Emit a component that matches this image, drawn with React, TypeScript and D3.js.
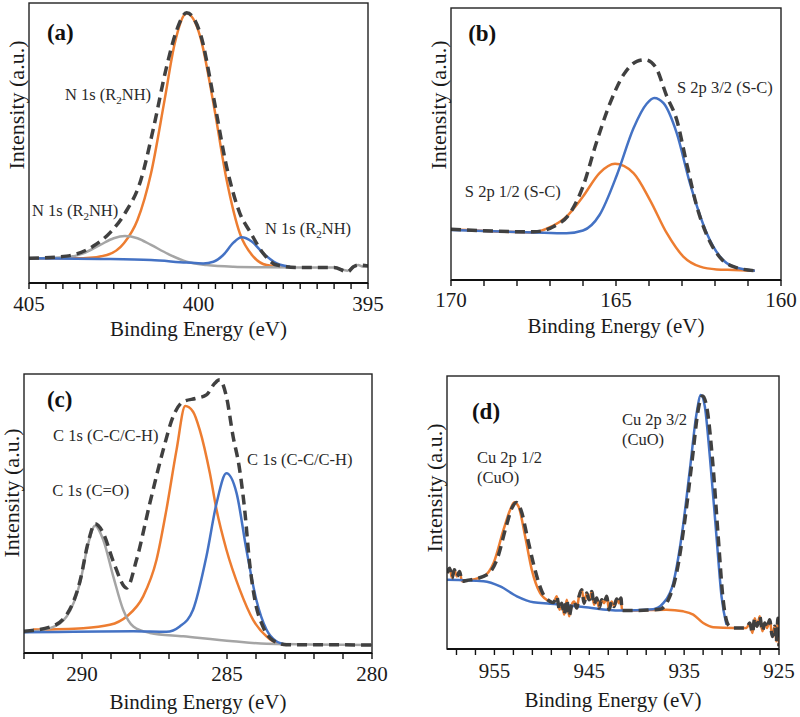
import React from 'react';
import * as d3 from 'd3';

type P = [number, number];

// ---------- Panel (a): N 1s ----------
const aOrange: P[] = [
  [405.0, 8.8], [403.4, 8.8], [402.7, 10.0], [402.2, 14.2], [401.8, 22.5], [401.4, 39.2], [401.0, 65.4],
  [400.7, 85.6], [400.35, 96.3], [399.95, 88.0], [399.56, 64.2], [399.17, 36.8], [398.78, 17.7],
  [398.38, 9.4], [397.99, 6.4], [397.5, 5.8],
];
const aGray: P[] = [
  [405.0, 8.8], [403.9, 9.2], [403.4, 10.6], [402.9, 13.6], [402.5, 16.0], [402.17, 16.8], [401.8, 16.0],
  [401.4, 13.6], [400.9, 10.4], [400.35, 7.6], [399.76, 6.4], [398.97, 5.8], [397.99, 5.6], [397.0, 5.5],
  [396.0, 5.5], [395.6, 4.4], [395.43, 5.8], [395.29, 6.4], [395.14, 5.8], [395.0, 6.1],
];
const aBlue: P[] = [
  [405.0, 8.8], [402.9, 8.6], [401.4, 8.2], [400.35, 7.3], [399.86, 7.0], [399.56, 7.6], [399.27, 10.0],
  [398.97, 14.4], [398.73, 16.3], [398.43, 14.8], [398.09, 10.6], [397.69, 7.0], [397.3, 5.8],
];
const aEnvelope: P[] = [
  [405.0, 8.8], [403.9, 9.6], [403.1, 13.2], [402.6, 18.1], [402.17, 24.9], [401.7, 36.8], [401.33, 55.2],
  [400.94, 77.3], [400.64, 90.4], [400.35, 96.5], [399.95, 89.2], [399.56, 66.5], [399.17, 41.5],
  [398.78, 24.9], [398.48, 18.3], [398.09, 10.6], [397.69, 6.4], [397.0, 5.5], [396.0, 5.5], [395.6, 4.0],
  [395.43, 5.8], [395.29, 6.4], [395.0, 6.1],
];
const aTickLabels = [405, 400, 395];

// ---------- Panel (b): S 2p ----------
const bOrange: P[] = [
  [170.0, 18.7], [168.5, 17.8], [167.5, 17.5], [167.0, 19.4], [166.5, 23.3], [166.0, 30.7], [165.5, 39.3],
  [165.03, 42.7], [164.47, 39.3], [163.97, 29.4], [163.46, 17.2], [162.96, 8.6], [162.45, 4.9],
  [161.95, 3.9], [161.44, 3.7], [160.79, 3.4],
];
const bBlue: P[] = [
  [170.0, 18.4], [167.5, 17.5], [166.5, 17.2], [166.0, 18.2], [165.5, 23.9], [164.97, 38.7], [164.47, 55.8],
  [164.07, 64.8], [163.84, 66.9], [163.56, 65.0], [163.16, 54.0], [162.76, 35.6], [162.25, 17.2],
  [161.85, 8.6], [161.44, 4.9], [160.79, 3.4],
];
const bEnvelope: P[] = [
  [170.0, 18.7], [167.5, 17.7], [166.9, 19.6], [166.4, 24.5], [166.0, 34.4], [165.6, 50.3], [165.18, 65.0],
  [164.77, 75.5], [164.37, 80.4], [164.12, 81.0], [163.81, 78.5], [163.46, 67.5], [163.16, 58.9],
  [162.86, 42.9], [162.55, 27.0], [162.25, 16.6], [161.85, 8.3], [161.44, 4.9], [160.79, 3.4],
];
const bTickLabels = [170, 165, 160];

// ---------- Panel (c): C 1s ----------
const cGray: P[] = [
  [292.0, 7.4], [291.1, 8.9], [290.53, 13.1], [290.07, 25.1], [289.78, 39.4], [289.55, 45.6], [289.27, 40.6],
  [288.92, 27.4], [288.58, 15.5], [288.23, 9.5], [287.66, 7.2], [286.51, 6.0], [284.79, 4.2], [283.64, 3.3],
  [280.0, 2.9],
];
const cOrange: P[] = [
  [291.68, 8.4], [289.96, 8.9], [289.04, 10.1], [288.46, 13.1], [287.89, 20.3], [287.43, 33.4],
  [287.09, 51.3], [286.74, 72.8], [286.44, 88.5], [286.17, 86.5], [285.94, 80.0], [285.59, 64.4],
  [285.36, 51.3], [285.02, 37.0], [284.56, 22.7], [284.1, 11.9], [283.64, 6.0], [283.3, 3.6], [282.95, 2.9],
];
const cBlue: P[] = [
  [292.0, 7.4], [288.23, 7.8], [287.09, 7.6], [286.63, 9.5], [286.17, 15.5], [285.71, 34.6], [285.36, 53.7],
  [285.02, 64.4], [284.67, 57.3], [284.33, 37.0], [283.99, 19.1], [283.64, 8.4], [283.3, 4.2], [282.95, 3.0],
];
const cEnvelope: P[] = [
  [292.0, 7.8], [291.1, 9.3], [290.53, 13.7], [290.07, 25.7], [289.78, 40.0], [289.55, 46.3], [289.27, 43.0],
  [288.92, 32.8], [288.46, 23.3], [288.12, 33.4], [287.66, 53.7], [287.2, 72.8], [286.86, 84.7],
  [286.51, 90.1], [286.05, 91.3], [285.71, 92.5], [285.42, 96.7], [285.25, 97.9], [285.02, 91.9],
  [284.79, 77.6], [284.58, 66.8], [284.39, 51.3], [284.22, 32.2], [284.04, 19.1], [283.76, 9.5],
  [283.41, 4.5], [282.95, 3.0], [280.0, 2.9],
];
const cTickLabels = [290, 285, 280];

// ---------- Panel (d): Cu 2p ----------
const dNoiseLeft: P[] = [
  [960.0, 27.8], [959.72, 29.6], [959.47, 26.0], [959.23, 29.0], [958.95, 26.6], [958.67, 28.4], [958.42, 24.8],
];
const dNoiseMid: P[] = [
  [948.78, 17.0], [948.43, 19.3], [948.14, 14.4], [947.9, 16.8], [947.65, 12.6], [947.37, 18.0], [947.13, 12.0],
  [946.85, 16.2], [946.6, 17.4], [946.32, 15.0], [946.08, 19.3], [945.79, 21.7], [945.55, 16.8], [945.27, 20.5],
  [945.02, 18.0], [944.74, 21.1], [944.5, 16.2], [944.22, 18.7], [943.97, 15.0], [943.69, 18.0], [943.44, 16.8],
  [943.16, 19.3], [942.92, 14.4], [942.64, 17.4], [942.39, 15.6], [942.11, 18.3], [941.87, 16.8], [941.66, 18.7],
  [941.55, 14.1],
];
const dNoiseRight: P[] = [
  [928.08, 9.5], [927.8, 5.9], [927.56, 11.3], [927.31, 8.3], [927.03, 12.0], [926.75, 6.5], [926.5, 9.5],
  [926.26, 7.7], [925.98, 10.7], [925.7, 4.6], [925.45, 8.3], [925.28, 2.8], [925.1, 11.3], [925.0, 1.0],
];
const dOrangePeak: P[] = [
  [957.9, 25.1], [956.14, 26.6], [955.09, 31.5], [954.04, 43.7], [953.34, 51.0], [952.91, 53.8], [952.46, 52.2],
  [951.76, 41.2], [951.06, 29.0], [950.18, 20.5], [949.13, 17.4],
];
const dOrangeTail: P[] = [
  [940.36, 14.1], [936.85, 14.4], [935.1, 13.8], [934.04, 12.6], [932.99, 9.5], [931.94, 8.0], [929.84, 7.7],
  [928.43, 7.7],
];
const dBlue: P[] = [
  [960.0, 25.4], [956.14, 24.8], [954.39, 22.9], [952.63, 19.3], [950.88, 17.1], [949.13, 16.6], [945.62, 15.4],
  [941.76, 14.1], [938.25, 14.6], [937.2, 16.8], [936.15, 24.1], [935.27, 41.2], [934.4, 65.6], [933.69, 86.3],
  [933.24, 93.0], [932.82, 88.8], [932.29, 70.5], [931.59, 41.2], [931.06, 19.3], [930.54, 8.9],
];
const dEnvPeak1: P[] = [
  [957.9, 25.1], [955.79, 27.2], [954.74, 32.7], [953.76, 44.9], [953.16, 51.6], [952.7, 53.7], [952.21, 51.0],
  [951.51, 40.6], [950.81, 30.2], [950.0, 21.1], [949.13, 17.4],
];
const dEnvPeak2: P[] = [
  [940.36, 14.1], [937.55, 14.6], [936.67, 18.0], [935.8, 27.8], [934.92, 47.3], [934.11, 70.5], [933.52, 87.6],
  [933.06, 92.7], [932.57, 87.6], [932.01, 69.3], [931.41, 41.2], [930.89, 18.0], [930.36, 8.9], [929.84, 7.7],
  [928.43, 7.7],
];
const dOrange: P[] = [...dNoiseLeft, ...dOrangePeak, ...dNoiseMid, ...dOrangeTail, ...dNoiseRight];
const dEnvelope: P[] = [...dNoiseLeft, ...dEnvPeak1, ...dNoiseMid, ...dEnvPeak2, ...dNoiseRight];
const dTickLabels = [955, 945, 935, 925];

// ---------- styling ----------
const ORANGE = '#ED7D31';
const BLUE = '#4472C4';
const GRAY = '#A5A5A5';
const DARK = '#404040';
const SERIF = '"Liberation Serif", "Times New Roman", serif';

type Series = { data: P[]; color: string; width: number; dash?: string };
type Note = { x: number; y: number; lines: React.ReactNode[]; bold?: boolean; size?: number };

interface PanelProps {
  left: number; right: number; top: number; bottom: number;
  xDomain: [number, number];
  tickFrom: number; tickTo: number; tickStep: number;
  tickLabels: number[];
  series: Series[];
  notes: Note[];
  yLabelCenter: number;
  tickLabelDy: number;
  titleDy: number;
}

function Panel(p: PanelProps) {
  const x = d3.scaleLinear().domain(p.xDomain).range([p.left, p.right]);
  const y = d3.scaleLinear().domain([0, 100]).range([p.bottom, p.top]);
  const line = d3.line<P>().x(d => x(d[0])).y(d => y(d[1])).curve(d3.curveMonotoneX);
  const ticks = d3.range(p.tickFrom, p.tickTo + 1e-9, p.tickStep);
  const cx = (p.left + p.right) / 2;
  const id = `clip${p.left}${p.top}`;
  return (
    <g>
      <defs>
        <clipPath id={id}>
          <rect x={p.left} y={p.top} width={p.right - p.left} height={p.bottom - p.top} />
        </clipPath>
      </defs>
      <g clipPath={`url(#${id})`}>
        {p.series.map((s, i) => (
          <path key={i} d={line(s.data) || ''} fill="none" stroke={s.color} strokeWidth={s.width}
            strokeDasharray={s.dash} strokeLinejoin="round" />
        ))}
      </g>
      <rect x={p.left} y={p.top} width={p.right - p.left} height={p.bottom - p.top}
        fill="none" stroke="#222" strokeWidth={1.4} />
      <line x1={p.left} x2={p.right} y1={p.bottom} y2={p.bottom} stroke="#111" strokeWidth={2} />
      {ticks.map((t, i) => (
        <line key={i} x1={x(t)} x2={x(t)} y1={p.bottom} y2={p.bottom + 6} stroke="#111" strokeWidth={1.4} />
      ))}
      {p.tickLabels.map(t => (
        <text key={t} x={x(t)} y={p.bottom + p.tickLabelDy} textAnchor="middle" fontFamily={SERIF}
          fontSize={21} fill="#1a1a1a">{t}</text>
      ))}
      <text x={cx} y={p.bottom + p.titleDy} textAnchor="middle" fontFamily={SERIF} fontSize={21} fill="#1a1a1a">
        Binding Energy (eV)
      </text>
      <text transform={`translate(${p.left - 5},${p.yLabelCenter}) rotate(-90)`} textAnchor="middle"
        fontFamily={SERIF} fontSize={22} fill="#1a1a1a">Intensity (a.u.)</text>
      {p.notes.map((n, i) => (
        <text key={i} x={x(n.x)} y={y(n.y)} fontFamily={SERIF} fontSize={n.size ?? 16.5}
          fontWeight={n.bold ? 'bold' : 'normal'} fill={n.bold ? '#111' : '#2a2a2a'}>
          {n.lines.map((l, j) => (
            <tspan key={j} x={x(n.x)} dy={j === 0 ? 0 : 20}>{l}</tspan>
          ))}
        </text>
      ))}
    </g>
  );
}

const r2nh = (
  <>
    N 1s (R<tspan dy={4} fontSize={11}>2</tspan><tspan dy={-4}>NH)</tspan>
  </>
);

const DASH = '10 6';

export default function App() {
  return (
    <svg width={800} height={717} style={{ position: 'absolute', left: 0, top: 0, background: '#fff' }}>
      <rect x={0} y={0} width={800} height={717} fill="#fff" />
      <Panel left={29} right={368} top={3} bottom={283} xDomain={[405, 395]}
        tickFrom={395} tickTo={405} tickStep={0.5} tickLabels={aTickLabels}
        series={[
          { data: aOrange, color: ORANGE, width: 2.5 },
          { data: aGray, color: GRAY, width: 2.5 },
          { data: aBlue, color: BLUE, width: 2.5 },
          { data: aEnvelope, color: DARK, width: 3.5, dash: DASH },
        ]}
        notes={[
          { x: 404.47, y: 86.8, lines: ['(a)'], bold: true, size: 23 },
          { x: 403.94, y: 65.4, lines: [r2nh] },
          { x: 404.91, y: 23.9, lines: [r2nh] },
          { x: 398.04, y: 17.5, lines: [r2nh] },
        ]}
        yLabelCenter={105} tickLabelDy={28} titleDy={53} />
      <Panel left={451} right={781} top={8} bottom={280} xDomain={[170, 160]}
        tickFrom={160} tickTo={170} tickStep={1} tickLabels={bTickLabels}
        series={[
          { data: bOrange, color: ORANGE, width: 2.5 },
          { data: bBlue, color: BLUE, width: 2.5 },
          { data: bEnvelope, color: DARK, width: 3.5, dash: DASH },
        ]}
        notes={[
          { x: 169.48, y: 87.9, lines: ['(b)'], bold: true, size: 23 },
          { x: 163.15, y: 68.75, lines: ['S 2p 3/2 (S-C)'] },
          { x: 169.58, y: 30.5, lines: ['S 2p 1/2 (S-C)'] },
        ]}
        yLabelCenter={105} tickLabelDy={27} titleDy={53} />
      <Panel left={24} right={372} top={374} bottom={653} xDomain={[292, 280]}
        tickFrom={280} tickTo={292} tickStep={1} tickLabels={cTickLabels}
        series={[
          { data: cOrange, color: ORANGE, width: 2.5 },
          { data: cGray, color: GRAY, width: 2.5 },
          { data: cBlue, color: BLUE, width: 2.5 },
          { data: cEnvelope, color: DARK, width: 3.5, dash: DASH },
        ]}
        notes={[
          { x: 291.21, y: 88.2, lines: ['(c)'], bold: true, size: 23 },
          { x: 291.0, y: 76, lines: ['C 1s (C-C/C-H)'] },
          { x: 284.31, y: 67.4, lines: ['C 1s (C-C/C-H)'] },
          { x: 291.03, y: 56.3, lines: ['C 1s (C=O)'] },
        ]}
        yLabelCenter={493} tickLabelDy={28} titleDy={56} />
      <Panel left={447} right={779} top={376} bottom={649} xDomain={[960, 925]}
        tickFrom={925} tickTo={959} tickStep={2} tickLabels={dTickLabels}
        series={[
          { data: dOrange, color: ORANGE, width: 2.5 },
          { data: dBlue, color: BLUE, width: 2.5 },
          { data: dEnvelope, color: DARK, width: 3.5, dash: DASH },
        ]}
        notes={[
          { x: 957.37, y: 84.2, lines: ['(d)'], bold: true, size: 23 },
          { x: 941.56, y: 82.1, lines: ['Cu 2p 3/2', '(CuO)'] },
          { x: 956.84, y: 68.1, lines: ['Cu 2p 1/2', '(CuO)'] },
        ]}
        yLabelCenter={488} tickLabelDy={29} titleDy={58} />
    </svg>
  );
}
